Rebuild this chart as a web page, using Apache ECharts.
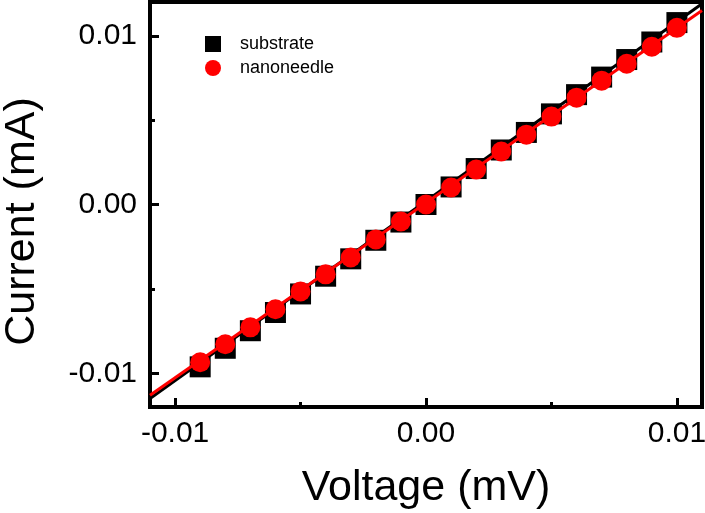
<!DOCTYPE html>
<html>
<head>
<meta charset="utf-8">
<script src="https://cdn.jsdelivr.net/npm/echarts@6/dist/echarts.min.js"></script>
<style>html,body{margin:0;padding:0;background:#fff}#c{width:705px;height:513px}</style>
</head>
<body>
<div id="c"></div>
<script>
const voltage = [-0.009,-0.008,-0.007,-0.006,-0.005,-0.004,-0.003,-0.002,-0.001,0.000,0.001,0.002,0.003,0.004,0.005,0.006,0.007,0.008,0.009,0.010];
const substrate = [-0.00962,-0.00852,-0.00748,-0.00640,-0.00530,-0.00425,-0.00322,-0.00212,-0.00104,0.00000,0.00104,0.00213,0.00323,0.00427,0.00537,0.00651,0.00755,0.00859,0.00963,0.01078];
const nanoneedle = [-0.00935,-0.00828,-0.00728,-0.00621,-0.00515,-0.00414,-0.00314,-0.00207,-0.00101,0.00000,0.00101,0.00207,0.00314,0.00414,0.00521,0.00633,0.00734,0.00834,0.00935,0.01047];
const fitSubstrate = [[-0.011,-0.0115],[0.011,0.0119]];
const fitNanoneedle = [[-0.011,-0.0113],[0.011,0.0115]];
const xMajorTicks = [-0.01, 0, 0.01];
const xMinorTicks = [-0.005, 0.005];
const yMajorTicks = [-0.01, 0, 0.01];
const yMinorTicks = [-0.005, 0.005];
const xRange = [-0.011, 0.011];
const yRange = [-0.012, 0.012];

const FONT = "'Liberation Sans', Arial, sans-serif";
const chart = echarts.init(document.getElementById('c'));
const gridBox = {left:150, right:3, top:2, bottom:106};
const fmt = v => Math.abs(v) < 1e-12 ? '0.00' : v.toFixed(2);

chart.setOption({
  animation:false,
  backgroundColor:'#fff',
  textStyle:{fontFamily:FONT},
  grid:[
    Object.assign({show:true, borderColor:'#000', borderWidth:4, containLabel:false, outerBoundsMode:'none'}, gridBox),
    Object.assign({show:false, containLabel:false, outerBoundsMode:'none'}, gridBox)
  ],
  legend:{
    left:200, top:30, orient:'vertical', itemWidth:16, itemHeight:16, itemGap:6,
    textStyle:{fontSize:18, color:'#000', fontFamily:FONT, padding:[0,0,0,14]},
    data:[{name:'substrate', icon:'rect'},{name:'nanoneedle', icon:'circle'}]
  },
  xAxis:[
    {type:'value', gridIndex:0, min:xRange[0], max:xRange[1],
     name:'Voltage (mV)', nameLocation:'middle', nameGap:60,
     nameTextStyle:{fontSize:43, color:'#000', fontFamily:FONT},
     axisLine:{show:true, onZero:false, lineStyle:{color:'#000', width:4}},
     axisTick:{show:true, inside:true, length:9, customValues:xMajorTicks, lineStyle:{color:'#000', width:3}},
     axisLabel:{show:true, customValues:xMajorTicks, formatter:fmt, fontSize:30, color:'#000', margin:12, fontFamily:FONT},
     splitLine:{show:false}},
    {type:'value', gridIndex:1, min:xRange[0], max:xRange[1],
     axisLine:{show:false, onZero:false},
     axisTick:{show:true, inside:true, length:5, customValues:xMinorTicks, lineStyle:{color:'#000', width:3}},
     axisLabel:{show:false}, splitLine:{show:false}}
  ],
  yAxis:[
    {type:'value', gridIndex:0, min:yRange[0], max:yRange[1],
     name:'Current (mA)', nameLocation:'middle', nameGap:106, nameRotate:90,
     nameTextStyle:{fontSize:43, color:'#000', fontFamily:FONT, padding:[0,34,0,0]},
     axisLine:{show:true, onZero:false, lineStyle:{color:'#000', width:4}},
     axisTick:{show:true, inside:true, length:9, customValues:yMajorTicks, lineStyle:{color:'#000', width:3}},
     axisLabel:{show:true, customValues:yMajorTicks, formatter:fmt, fontSize:30, color:'#000', margin:13, fontFamily:FONT},
     splitLine:{show:false}},
    {type:'value', gridIndex:1, min:yRange[0], max:yRange[1],
     axisLine:{show:false, onZero:false},
     axisTick:{show:true, inside:true, length:5, customValues:yMinorTicks, lineStyle:{color:'#000', width:3}},
     axisLabel:{show:false}, splitLine:{show:false}}
  ],
  series:[
    {name:'substrate', type:'scatter', xAxisIndex:0, yAxisIndex:0, symbol:'rect', symbolSize:21,
     itemStyle:{color:'#000', opacity:1}, z:2, data:voltage.map((v,i)=>[v, substrate[i]])},
    {name:'substrate fit', type:'line', xAxisIndex:0, yAxisIndex:0, showSymbol:false, symbol:'none',
     lineStyle:{color:'#000', width:3}, z:3, data:fitSubstrate, silent:true},
    {name:'nanoneedle', type:'scatter', xAxisIndex:0, yAxisIndex:0, symbol:'circle', symbolSize:20,
     itemStyle:{color:'#ff0000', opacity:1}, z:4, data:voltage.map((v,i)=>[v, nanoneedle[i]])},
    {name:'nanoneedle fit', type:'line', xAxisIndex:0, yAxisIndex:0, showSymbol:false, symbol:'none',
     lineStyle:{color:'#ff0000', width:3}, z:5, data:fitNanoneedle, silent:true}
  ]
});
</script>
</body>
</html>
